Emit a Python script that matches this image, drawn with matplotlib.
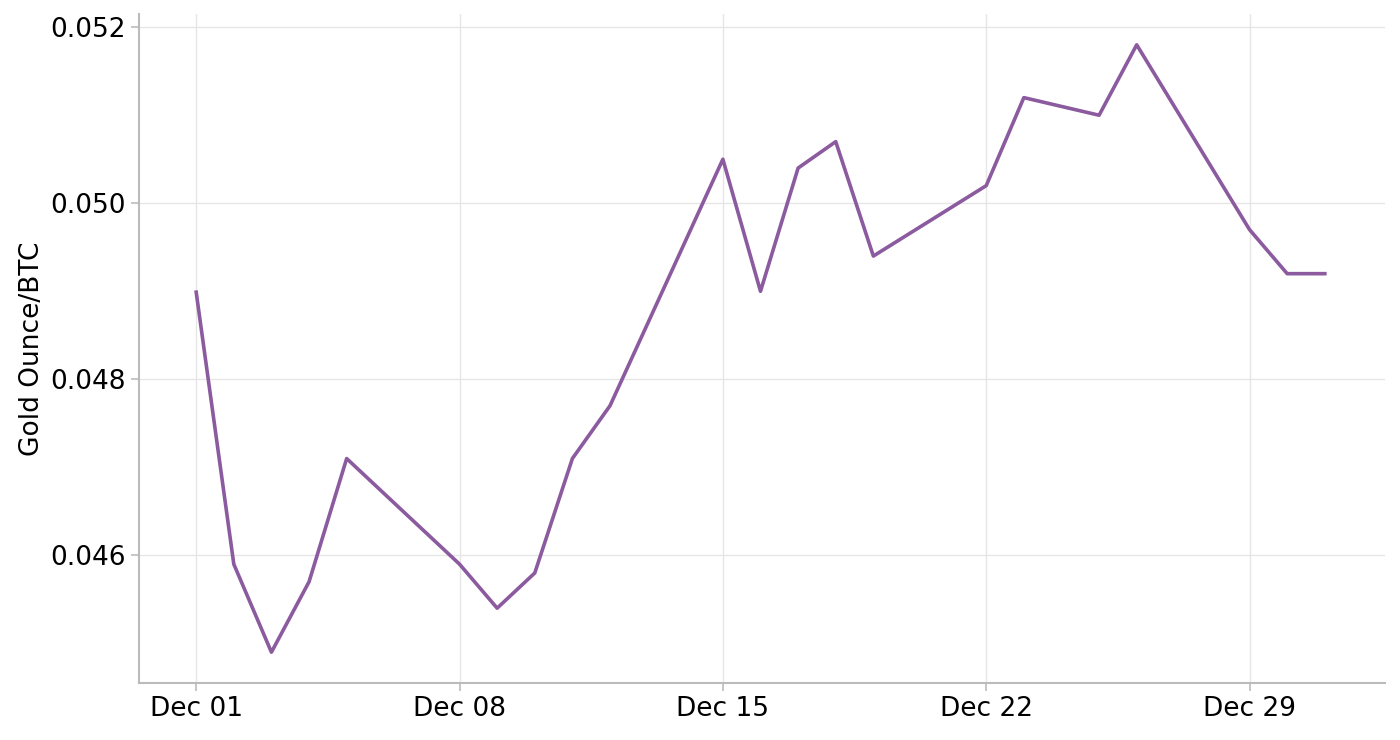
import matplotlib
matplotlib.use("Agg")
import matplotlib.pyplot as plt
import matplotlib.dates as mdates
import pandas as pd

dates = ["2024-12-01","2024-12-02","2024-12-03","2024-12-04","2024-12-05",
         "2024-12-08","2024-12-09","2024-12-10","2024-12-11","2024-12-12",
         "2024-12-15","2024-12-16","2024-12-17","2024-12-18","2024-12-19",
         "2024-12-22","2024-12-23","2024-12-25","2024-12-26",
         "2024-12-29","2024-12-30","2024-12-31"]
values = [0.04899,0.0459,0.0449,0.0457,0.0471,
          0.0459,0.0454,0.0458,0.0471,0.0477,
          0.0505,0.0490,0.0504,0.0507,0.0494,
          0.0502,0.0512,0.0510,0.0518,
          0.0497,0.0492,0.0492]
tick_dates = ["2024-12-01","2024-12-08","2024-12-15","2024-12-22","2024-12-29"]
yticks = [0.046,0.048,0.050,0.052]

x = pd.to_datetime(dates)
fig = plt.figure(figsize=(14,7.4), dpi=100)
ax = fig.add_axes([139/1400, 1-683/740, (1385-139)/1400, (683-14)/740])
ax.plot(x, values, color="#8B5A9F", lw=2.6)
d0 = pd.Timestamp("2024-12-01")
ax.set_xlim(d0 - pd.Timedelta(days=1.52), d0 + pd.Timedelta(days=31.6))
ax.set_ylim(0.04455, 0.05215)
ax.set_xticks(pd.to_datetime(tick_dates))
ax.xaxis.set_major_formatter(mdates.DateFormatter("%b %d"))
ax.set_yticks(yticks)
ax.set_yticklabels([f"{v:.3f}" for v in yticks])
ax.grid(True, color="#e6e6e6", lw=1)
ax.set_axisbelow(True)
for s in ["top","right"]:
    ax.spines[s].set_visible(False)
for s in ["left","bottom"]:
    ax.spines[s].set_color("#bbbbbb"); ax.spines[s].set_linewidth(1.5)
ax.tick_params(labelsize=19, color="#bbbbbb", length=6, width=1.2)
ax.set_ylabel("Gold Ounce/BTC", fontsize=19)
fig.savefig("out.png")
